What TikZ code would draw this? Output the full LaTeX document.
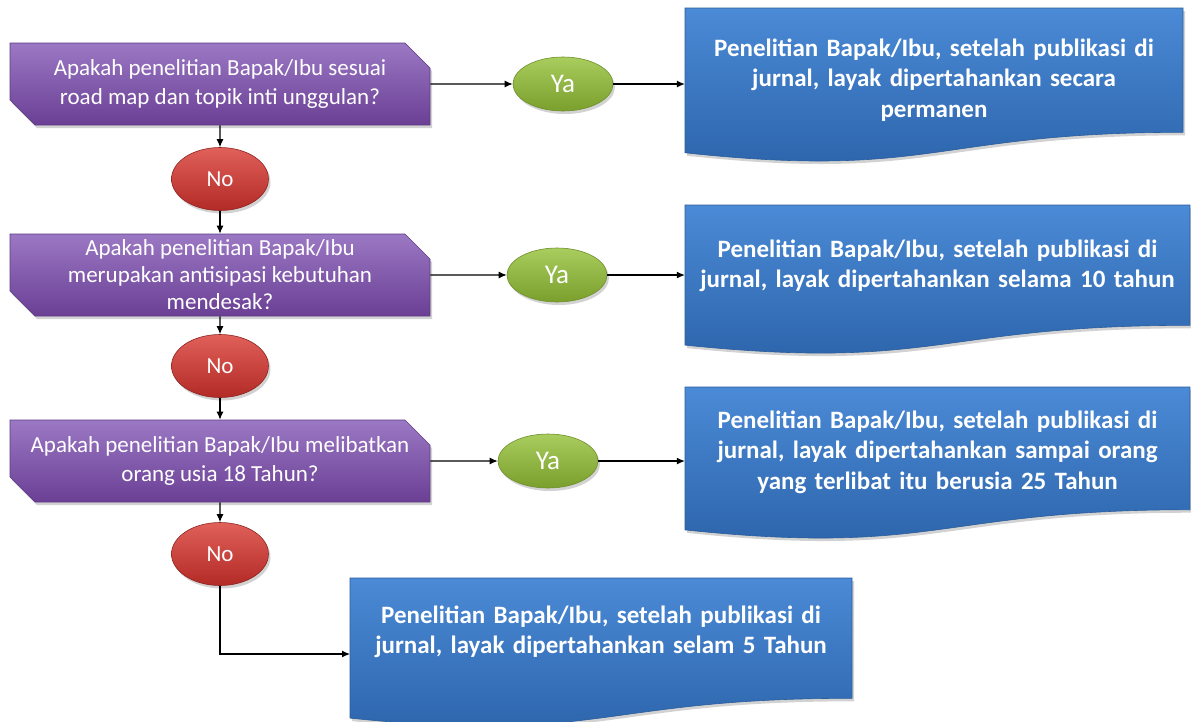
\documentclass[tikz,border=0pt]{standalone}
\usepackage{fontspec}
\setmainfont{Carlito}
\usetikzlibrary{shapes.geometric,shapes.misc,arrows.meta,shadows}
\newcommand{\docshape}[4]{%
  \path[docbox] (#1,#2) -- ({#1+#3},#2) -- ({#1+#3},{#2+0.802*#4})
    .. controls ({#1+0.5*#3},{#2+0.802*#4}) and ({#1+0.5*#3},{#2+1.107*#4}) ..
    (#1,{#2+0.934*#4}) -- cycle;}
\begin{document}
\begin{tikzpicture}[x=1pt,y=-1pt,
  shadowed/.style={drop shadow={opacity=0.35,shadow xshift=2pt,shadow yshift=-3pt}},
  qbox/.style={chamfered rectangle,
    chamfered rectangle corners={north east,south west},
    chamfered rectangle xsep=13pt, chamfered rectangle ysep=12pt,
    minimum width=420pt, minimum height=82pt, inner sep=0pt,
    top color=qtop, bottom color=qbot, draw=qline, line width=0.6pt,
    shadowed, text=white, align=center,
    font=\fontsize{23}{29}\selectfont},
  qtight/.style={font=\fontsize{23}{27}\selectfont, inner ysep=-7pt},
  docbox/.style={top color=btop, bottom color=bbot, draw=bline, line width=0.6pt, shadowed},
  btext/.style={text width=#1, inner sep=0pt, align=center, text=white,
    font=\bfseries\fontsize{25}{30.5}\selectfont},
  yes/.style={ellipse, minimum width=100pt, minimum height=54pt, inner sep=0pt,
    top color=gtop, bottom color=gbot, draw=gline, line width=0.6pt, shadowed,
    text=white, font=\fontsize{27}{29}\selectfont},
  no/.style={ellipse, minimum width=97pt, minimum height=63pt, inner sep=0pt,
    top color=rtop, bottom color=rbot, draw=rline, line width=0.6pt, shadowed,
    text=white, font=\fontsize{23}{26}\selectfont},
  arr/.style={draw=black, line width=1.1pt, -{Latex[length=8pt,width=7pt]}}]
\definecolor{qtop}{HTML}{9B78C4}
\definecolor{qbot}{HTML}{6A3F94}
\definecolor{qline}{HTML}{5E3A85}
\definecolor{btop}{HTML}{4B8AD6}
\definecolor{bbot}{HTML}{2A62A8}
\definecolor{bline}{HTML}{2A5D9C}
\definecolor{gtop}{HTML}{A9CD5E}
\definecolor{gbot}{HTML}{7A9F2C}
\definecolor{gline}{HTML}{6E8F2A}
\definecolor{rtop}{HTML}{E0605A}
\definecolor{rbot}{HTML}{B32A26}
\definecolor{rline}{HTML}{8E2420}
\useasboundingbox[fill=white] (0,0) rectangle (1191,721);

% document shapes
\docshape{685}{8}{498}{155}
\docshape{685}{205}{505}{150}
\docshape{685}{387}{505}{153}
\docshape{350}{578}{502}{150}

% text of blue boxes
\node[btext=498pt] (b1) at (934,80) {Penelitian Bapak/Ibu, setelah publikasi di\\jurnal, layak dipertahankan secara\\permanen};
\node[btext=505pt] (b2) at (937.5,266) {Penelitian Bapak/Ibu, setelah publikasi di\\jurnal, layak dipertahankan selama 10 tahun};
\node[btext=505pt] (b3) at (937.5,452) {Penelitian Bapak/Ibu, setelah publikasi di\\jurnal, layak dipertahankan sampai orang\\yang terlibat itu berusia 25 Tahun};
\node[btext=502pt] (b4) at (601,632) {Penelitian Bapak/Ibu, setelah publikasi di\\jurnal, layak dipertahankan selam 5 Tahun};

% questions
\node[qbox] (q1) at (220,84) {Apakah penelitian Bapak/Ibu sesuai\\road map dan topik inti unggulan?};
\node[qbox,qtight] (q2) at (220,275) {Apakah penelitian Bapak/Ibu\\merupakan antisipasi kebutuhan\\mendesak?};
\node[qbox] (q3) at (220,461) {Apakah penelitian Bapak/Ibu melibatkan\\orang usia 18 Tahun?};

% decisions
\node[yes] (y1) at (563,84) {Ya};
\node[yes] (y2) at (557,275) {Ya};
\node[yes] (y3) at (548,461) {Ya};
\node[no] (n1) at (220,179) {No};
\node[no] (n2) at (220,366) {No};
\node[no] (n3) at (220,554) {No};
\coordinate (b4in) at (350,654);

% connectors
\draw[arr] (q1) -- (y1);
\draw[arr] (y1) -- (y1 -| b1.west);
\draw[arr] (q2) -- (y2);
\draw[arr] (y2) -- (y2 -| b2.west);
\draw[arr] (q3) -- (y3);
\draw[arr] (y3) -- (y3 -| b3.west);
\draw[arr] (q1) -- (n1);
\draw[arr] (n1) -- (q2);
\draw[arr] (q2) -- (n2);
\draw[arr] (n2) -- (q3);
\draw[arr] (q3) -- (n3);
\draw[arr] (n3.south) |- (b4in);
\end{tikzpicture}
\end{document}
